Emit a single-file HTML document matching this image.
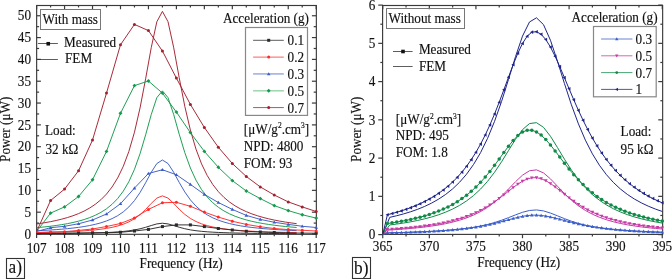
<!DOCTYPE html><html><head><meta charset="utf-8"><style>html,body{margin:0;padding:0;background:#fff;overflow:hidden}svg{display:block;will-change:transform}text{font-family:"Liberation Serif", serif}</style></head><body>
<svg width="672" height="279" viewBox="0 0 672 279">
<rect width="672" height="279" fill="#fff"/>
<rect x="36.65" y="5.5" width="279.7" height="228.8" fill="none" stroke="#3a3a3a" stroke-width="1.15"/>
<line x1="36.6" y1="234" x2="36.6" y2="238" stroke="#3a3a3a" stroke-width="1.2"/>
<line x1="36.6" y1="5.25" x2="36.6" y2="9.25" stroke="#3a3a3a" stroke-width="1.2"/>
<line x1="50.58" y1="234" x2="50.58" y2="236.2" stroke="#3a3a3a" stroke-width="1.2"/>
<line x1="50.58" y1="5.25" x2="50.58" y2="7.45" stroke="#3a3a3a" stroke-width="1.2"/>
<line x1="64.56" y1="234" x2="64.56" y2="238" stroke="#3a3a3a" stroke-width="1.2"/>
<line x1="64.56" y1="5.25" x2="64.56" y2="9.25" stroke="#3a3a3a" stroke-width="1.2"/>
<line x1="78.54" y1="234" x2="78.54" y2="236.2" stroke="#3a3a3a" stroke-width="1.2"/>
<line x1="78.54" y1="5.25" x2="78.54" y2="7.45" stroke="#3a3a3a" stroke-width="1.2"/>
<line x1="92.52" y1="234" x2="92.52" y2="238" stroke="#3a3a3a" stroke-width="1.2"/>
<line x1="92.52" y1="5.25" x2="92.52" y2="9.25" stroke="#3a3a3a" stroke-width="1.2"/>
<line x1="106.5" y1="234" x2="106.5" y2="236.2" stroke="#3a3a3a" stroke-width="1.2"/>
<line x1="106.5" y1="5.25" x2="106.5" y2="7.45" stroke="#3a3a3a" stroke-width="1.2"/>
<line x1="120.48" y1="234" x2="120.48" y2="238" stroke="#3a3a3a" stroke-width="1.2"/>
<line x1="120.48" y1="5.25" x2="120.48" y2="9.25" stroke="#3a3a3a" stroke-width="1.2"/>
<line x1="134.46" y1="234" x2="134.46" y2="236.2" stroke="#3a3a3a" stroke-width="1.2"/>
<line x1="134.46" y1="5.25" x2="134.46" y2="7.45" stroke="#3a3a3a" stroke-width="1.2"/>
<line x1="148.44" y1="234" x2="148.44" y2="238" stroke="#3a3a3a" stroke-width="1.2"/>
<line x1="148.44" y1="5.25" x2="148.44" y2="9.25" stroke="#3a3a3a" stroke-width="1.2"/>
<line x1="162.42" y1="234" x2="162.42" y2="236.2" stroke="#3a3a3a" stroke-width="1.2"/>
<line x1="162.42" y1="5.25" x2="162.42" y2="7.45" stroke="#3a3a3a" stroke-width="1.2"/>
<line x1="176.4" y1="234" x2="176.4" y2="238" stroke="#3a3a3a" stroke-width="1.2"/>
<line x1="176.4" y1="5.25" x2="176.4" y2="9.25" stroke="#3a3a3a" stroke-width="1.2"/>
<line x1="190.38" y1="234" x2="190.38" y2="236.2" stroke="#3a3a3a" stroke-width="1.2"/>
<line x1="190.38" y1="5.25" x2="190.38" y2="7.45" stroke="#3a3a3a" stroke-width="1.2"/>
<line x1="204.36" y1="234" x2="204.36" y2="238" stroke="#3a3a3a" stroke-width="1.2"/>
<line x1="204.36" y1="5.25" x2="204.36" y2="9.25" stroke="#3a3a3a" stroke-width="1.2"/>
<line x1="218.34" y1="234" x2="218.34" y2="236.2" stroke="#3a3a3a" stroke-width="1.2"/>
<line x1="218.34" y1="5.25" x2="218.34" y2="7.45" stroke="#3a3a3a" stroke-width="1.2"/>
<line x1="232.32" y1="234" x2="232.32" y2="238" stroke="#3a3a3a" stroke-width="1.2"/>
<line x1="232.32" y1="5.25" x2="232.32" y2="9.25" stroke="#3a3a3a" stroke-width="1.2"/>
<line x1="246.3" y1="234" x2="246.3" y2="236.2" stroke="#3a3a3a" stroke-width="1.2"/>
<line x1="246.3" y1="5.25" x2="246.3" y2="7.45" stroke="#3a3a3a" stroke-width="1.2"/>
<line x1="260.28" y1="234" x2="260.28" y2="238" stroke="#3a3a3a" stroke-width="1.2"/>
<line x1="260.28" y1="5.25" x2="260.28" y2="9.25" stroke="#3a3a3a" stroke-width="1.2"/>
<line x1="274.26" y1="234" x2="274.26" y2="236.2" stroke="#3a3a3a" stroke-width="1.2"/>
<line x1="274.26" y1="5.25" x2="274.26" y2="7.45" stroke="#3a3a3a" stroke-width="1.2"/>
<line x1="288.24" y1="234" x2="288.24" y2="238" stroke="#3a3a3a" stroke-width="1.2"/>
<line x1="288.24" y1="5.25" x2="288.24" y2="9.25" stroke="#3a3a3a" stroke-width="1.2"/>
<line x1="302.22" y1="234" x2="302.22" y2="236.2" stroke="#3a3a3a" stroke-width="1.2"/>
<line x1="302.22" y1="5.25" x2="302.22" y2="7.45" stroke="#3a3a3a" stroke-width="1.2"/>
<line x1="316.2" y1="234" x2="316.2" y2="238" stroke="#3a3a3a" stroke-width="1.2"/>
<line x1="316.2" y1="5.25" x2="316.2" y2="9.25" stroke="#3a3a3a" stroke-width="1.2"/>
<line x1="36.6" y1="234" x2="40.9" y2="234" stroke="#3a3a3a" stroke-width="1.2"/>
<line x1="316.2" y1="234" x2="311.9" y2="234" stroke="#3a3a3a" stroke-width="1.2"/>
<line x1="36.6" y1="223.09" x2="39.1" y2="223.09" stroke="#3a3a3a" stroke-width="1.2"/>
<line x1="316.2" y1="223.09" x2="313.7" y2="223.09" stroke="#3a3a3a" stroke-width="1.2"/>
<line x1="36.6" y1="212.18" x2="40.9" y2="212.18" stroke="#3a3a3a" stroke-width="1.2"/>
<line x1="316.2" y1="212.18" x2="311.9" y2="212.18" stroke="#3a3a3a" stroke-width="1.2"/>
<line x1="36.6" y1="201.26" x2="39.1" y2="201.26" stroke="#3a3a3a" stroke-width="1.2"/>
<line x1="316.2" y1="201.26" x2="313.7" y2="201.26" stroke="#3a3a3a" stroke-width="1.2"/>
<line x1="36.6" y1="190.35" x2="40.9" y2="190.35" stroke="#3a3a3a" stroke-width="1.2"/>
<line x1="316.2" y1="190.35" x2="311.9" y2="190.35" stroke="#3a3a3a" stroke-width="1.2"/>
<line x1="36.6" y1="179.44" x2="39.1" y2="179.44" stroke="#3a3a3a" stroke-width="1.2"/>
<line x1="316.2" y1="179.44" x2="313.7" y2="179.44" stroke="#3a3a3a" stroke-width="1.2"/>
<line x1="36.6" y1="168.52" x2="40.9" y2="168.52" stroke="#3a3a3a" stroke-width="1.2"/>
<line x1="316.2" y1="168.52" x2="311.9" y2="168.52" stroke="#3a3a3a" stroke-width="1.2"/>
<line x1="36.6" y1="157.61" x2="39.1" y2="157.61" stroke="#3a3a3a" stroke-width="1.2"/>
<line x1="316.2" y1="157.61" x2="313.7" y2="157.61" stroke="#3a3a3a" stroke-width="1.2"/>
<line x1="36.6" y1="146.7" x2="40.9" y2="146.7" stroke="#3a3a3a" stroke-width="1.2"/>
<line x1="316.2" y1="146.7" x2="311.9" y2="146.7" stroke="#3a3a3a" stroke-width="1.2"/>
<line x1="36.6" y1="135.79" x2="39.1" y2="135.79" stroke="#3a3a3a" stroke-width="1.2"/>
<line x1="316.2" y1="135.79" x2="313.7" y2="135.79" stroke="#3a3a3a" stroke-width="1.2"/>
<line x1="36.6" y1="124.88" x2="40.9" y2="124.88" stroke="#3a3a3a" stroke-width="1.2"/>
<line x1="316.2" y1="124.88" x2="311.9" y2="124.88" stroke="#3a3a3a" stroke-width="1.2"/>
<line x1="36.6" y1="113.96" x2="39.1" y2="113.96" stroke="#3a3a3a" stroke-width="1.2"/>
<line x1="316.2" y1="113.96" x2="313.7" y2="113.96" stroke="#3a3a3a" stroke-width="1.2"/>
<line x1="36.6" y1="103.05" x2="40.9" y2="103.05" stroke="#3a3a3a" stroke-width="1.2"/>
<line x1="316.2" y1="103.05" x2="311.9" y2="103.05" stroke="#3a3a3a" stroke-width="1.2"/>
<line x1="36.6" y1="92.14" x2="39.1" y2="92.14" stroke="#3a3a3a" stroke-width="1.2"/>
<line x1="316.2" y1="92.14" x2="313.7" y2="92.14" stroke="#3a3a3a" stroke-width="1.2"/>
<line x1="36.6" y1="81.22" x2="40.9" y2="81.22" stroke="#3a3a3a" stroke-width="1.2"/>
<line x1="316.2" y1="81.22" x2="311.9" y2="81.22" stroke="#3a3a3a" stroke-width="1.2"/>
<line x1="36.6" y1="70.31" x2="39.1" y2="70.31" stroke="#3a3a3a" stroke-width="1.2"/>
<line x1="316.2" y1="70.31" x2="313.7" y2="70.31" stroke="#3a3a3a" stroke-width="1.2"/>
<line x1="36.6" y1="59.4" x2="40.9" y2="59.4" stroke="#3a3a3a" stroke-width="1.2"/>
<line x1="316.2" y1="59.4" x2="311.9" y2="59.4" stroke="#3a3a3a" stroke-width="1.2"/>
<line x1="36.6" y1="48.49" x2="39.1" y2="48.49" stroke="#3a3a3a" stroke-width="1.2"/>
<line x1="316.2" y1="48.49" x2="313.7" y2="48.49" stroke="#3a3a3a" stroke-width="1.2"/>
<line x1="36.6" y1="37.57" x2="40.9" y2="37.57" stroke="#3a3a3a" stroke-width="1.2"/>
<line x1="316.2" y1="37.57" x2="311.9" y2="37.57" stroke="#3a3a3a" stroke-width="1.2"/>
<line x1="36.6" y1="26.66" x2="39.1" y2="26.66" stroke="#3a3a3a" stroke-width="1.2"/>
<line x1="316.2" y1="26.66" x2="313.7" y2="26.66" stroke="#3a3a3a" stroke-width="1.2"/>
<line x1="36.6" y1="15.75" x2="40.9" y2="15.75" stroke="#3a3a3a" stroke-width="1.2"/>
<line x1="316.2" y1="15.75" x2="311.9" y2="15.75" stroke="#3a3a3a" stroke-width="1.2"/>
<clipPath id="clipA"><rect x="36" y="5" width="281" height="229.5"/></clipPath>
<g clip-path="url(#clipA)">
<polyline points="36.6,233.65 39.4,233.63 44.99,233.6 50.58,233.57 56.17,233.53 61.76,233.48 67.36,233.42 72.95,233.36 78.54,233.28 84.13,233.18 89.72,233.07 95.32,232.93 100.91,232.76 106.5,232.55 112.09,232.27 117.68,231.91 123.28,231.44 128.87,230.81 134.46,229.95 140.05,228.8 145.64,227.3 151.24,225.53 156.83,223.91 162.42,223.22 168.01,223.91 173.6,225.5 179.2,227.24 184.79,228.72 190.38,229.86 195.97,230.71 201.56,231.34 207.16,231.81 212.75,232.17 218.34,232.45 223.93,232.67 229.52,232.85 235.12,232.99 240.71,233.11 246.3,233.21 251.89,233.29 257.48,233.36 263.08,233.41 268.67,233.47 274.26,233.51 279.85,233.55 285.44,233.58 291.04,233.61 296.63,233.64" fill="none" stroke="#2a2a2a" stroke-width="0.95" stroke-linejoin="round" />
<polyline points="36.6,232.63 39.4,232.57 44.99,232.45 50.58,232.31 56.17,232.15 61.76,231.96 67.36,231.75 72.95,231.49 78.54,231.19 84.13,230.83 89.72,230.39 95.32,229.86 100.91,229.21 106.5,228.39 112.09,227.34 117.68,225.99 123.28,224.23 128.87,221.89 134.46,218.77 140.05,214.65 145.64,209.4 151.24,203.42 156.83,198.12 162.42,195.89 168.01,198.1 173.6,203.32 179.2,209.2 184.79,214.36 190.38,218.43 195.97,221.52 201.56,223.85 207.16,225.62 212.75,226.98 218.34,228.03 223.93,228.87 229.52,229.54 235.12,230.09 240.71,230.54 246.3,230.91 251.89,231.23 257.48,231.49 263.08,231.72 268.67,231.92 274.26,232.09 279.85,232.24 285.44,232.37 291.04,232.49 296.63,232.59" fill="none" stroke="#ff2a2a" stroke-width="0.95" stroke-linejoin="round" />
<polyline points="36.6,230.74 39.4,230.6 44.99,230.31 50.58,229.98 56.17,229.6 61.76,229.16 67.36,228.66 72.95,228.06 78.54,227.36 84.13,226.53 89.72,225.53 95.32,224.31 100.91,222.82 106.5,220.96 112.09,218.64 117.68,215.68 123.28,211.87 128.87,206.95 134.46,200.58 140.05,192.5 145.64,182.76 151.24,172.28 156.83,163.54 162.42,160.01 168.01,163.52 173.6,172.12 179.2,182.39 184.79,191.95 190.38,199.89 195.97,206.17 201.56,211.06 207.16,214.86 212.75,217.83 218.34,220.18 223.93,222.06 229.52,223.58 235.12,224.83 240.71,225.86 246.3,226.72 251.89,227.45 257.48,228.07 263.08,228.6 268.67,229.06 274.26,229.46 279.85,229.81 285.44,230.12 291.04,230.4 296.63,230.64" fill="none" stroke="#3b5cc4" stroke-width="0.95" stroke-linejoin="round" />
<polyline points="36.6,227.68 39.4,227.43 44.99,226.87 50.58,226.22 56.17,225.49 61.76,224.64 67.36,223.66 72.95,222.51 78.54,221.15 84.13,219.54 89.72,217.6 95.32,215.25 100.91,212.36 106.5,208.78 112.09,204.27 117.68,198.54 123.28,191.18 128.87,181.65 134.46,169.33 140.05,153.7 145.64,134.84 151.24,114.57 156.83,97.66 162.42,90.83 168.01,97.61 173.6,114.26 179.2,134.14 184.79,152.62 190.38,167.99 195.97,180.15 201.56,189.61 207.16,196.96 212.75,202.71 218.34,207.26 223.93,210.89 229.52,213.84 235.12,216.25 240.71,218.24 246.3,219.91 251.89,221.32 257.48,222.52 263.08,223.55 268.67,224.44 274.26,225.22 279.85,225.9 285.44,226.5 291.04,227.03 296.63,227.5" fill="none" stroke="#139a4c" stroke-width="0.95" stroke-linejoin="round" />
<polyline points="36.6,223.97 39.4,223.56 44.99,222.67 50.58,221.65 56.17,220.49 61.76,219.15 67.36,217.59 72.95,215.76 78.54,213.62 84.13,211.06 89.72,207.99 95.32,204.27 100.91,199.71 106.5,194.05 112.09,186.95 117.68,177.93 123.28,166.37 128.87,151.44 134.46,132.21 140.05,107.92 145.64,78.76 151.24,47.62 156.83,21.78 162.42,11.38 168.01,21.7 173.6,47.15 179.2,77.68 184.79,106.25 190.38,130.13 195.97,149.1 201.56,163.91 207.16,175.45 212.75,184.49 218.34,191.65 223.93,197.39 229.52,202.04 235.12,205.85 240.71,209.01 246.3,211.65 251.89,213.88 257.48,215.78 263.08,217.41 268.67,218.83 274.26,220.06 279.85,221.13 285.44,222.08 291.04,222.92 296.63,223.67" fill="none" stroke="#a3202e" stroke-width="0.95" stroke-linejoin="round" />
</g>
<polyline points="36.6,233.3 50.58,233.2 64.56,233.1 78.54,233 92.52,232.8 106.5,232.75 120.48,232.25 134.46,231 148.44,229.4 162.42,226.6 176.4,224.9 190.38,224.9 204.36,226.6 218.34,228.5 232.32,230 246.3,231.25 260.28,232 274.26,232.5 288.24,232.9 302.22,233.1 316.2,233.2" fill="none" stroke="#2a2a2a" stroke-width="0.95" stroke-linejoin="round" />
<rect x="49.08" y="231.7" width="3" height="3" fill="#2a2a2a"/>
<rect x="63.06" y="231.6" width="3" height="3" fill="#2a2a2a"/>
<rect x="77.04" y="231.5" width="3" height="3" fill="#2a2a2a"/>
<rect x="91.02" y="231.3" width="3" height="3" fill="#2a2a2a"/>
<rect x="105" y="231.25" width="3" height="3" fill="#2a2a2a"/>
<rect x="118.98" y="230.75" width="3" height="3" fill="#2a2a2a"/>
<rect x="132.96" y="229.5" width="3" height="3" fill="#2a2a2a"/>
<rect x="146.94" y="227.9" width="3" height="3" fill="#2a2a2a"/>
<rect x="160.92" y="225.1" width="3" height="3" fill="#2a2a2a"/>
<rect x="174.9" y="223.4" width="3" height="3" fill="#2a2a2a"/>
<rect x="188.88" y="223.4" width="3" height="3" fill="#2a2a2a"/>
<rect x="202.86" y="225.1" width="3" height="3" fill="#2a2a2a"/>
<rect x="216.84" y="227" width="3" height="3" fill="#2a2a2a"/>
<rect x="230.82" y="228.5" width="3" height="3" fill="#2a2a2a"/>
<rect x="244.8" y="229.75" width="3" height="3" fill="#2a2a2a"/>
<rect x="258.78" y="230.5" width="3" height="3" fill="#2a2a2a"/>
<rect x="272.76" y="231" width="3" height="3" fill="#2a2a2a"/>
<rect x="286.74" y="231.4" width="3" height="3" fill="#2a2a2a"/>
<rect x="300.72" y="231.6" width="3" height="3" fill="#2a2a2a"/>
<rect x="314.7" y="231.7" width="3" height="3" fill="#2a2a2a"/>
<polyline points="36.6,232.5 50.58,232 64.56,231.7 78.54,230.4 92.52,229 106.5,226.5 120.48,223.5 134.46,217.9 148.44,209.4 162.42,202.75 176.4,202.3 190.38,206.3 204.36,212.1 218.34,217.1 232.32,221.25 246.3,224.4 260.28,226.75 274.26,228.5 288.24,229.6 302.22,230.25 316.2,231" fill="none" stroke="#ff2a2a" stroke-width="0.95" stroke-linejoin="round" />
<circle cx="50.58" cy="232" r="1.5" fill="#ff2a2a"/>
<circle cx="64.56" cy="231.7" r="1.5" fill="#ff2a2a"/>
<circle cx="78.54" cy="230.4" r="1.5" fill="#ff2a2a"/>
<circle cx="92.52" cy="229" r="1.5" fill="#ff2a2a"/>
<circle cx="106.5" cy="226.5" r="1.5" fill="#ff2a2a"/>
<circle cx="120.48" cy="223.5" r="1.5" fill="#ff2a2a"/>
<circle cx="134.46" cy="217.9" r="1.5" fill="#ff2a2a"/>
<circle cx="148.44" cy="209.4" r="1.5" fill="#ff2a2a"/>
<circle cx="162.42" cy="202.75" r="1.5" fill="#ff2a2a"/>
<circle cx="176.4" cy="202.3" r="1.5" fill="#ff2a2a"/>
<circle cx="190.38" cy="206.3" r="1.5" fill="#ff2a2a"/>
<circle cx="204.36" cy="212.1" r="1.5" fill="#ff2a2a"/>
<circle cx="218.34" cy="217.1" r="1.5" fill="#ff2a2a"/>
<circle cx="232.32" cy="221.25" r="1.5" fill="#ff2a2a"/>
<circle cx="246.3" cy="224.4" r="1.5" fill="#ff2a2a"/>
<circle cx="260.28" cy="226.75" r="1.5" fill="#ff2a2a"/>
<circle cx="274.26" cy="228.5" r="1.5" fill="#ff2a2a"/>
<circle cx="288.24" cy="229.6" r="1.5" fill="#ff2a2a"/>
<circle cx="302.22" cy="230.25" r="1.5" fill="#ff2a2a"/>
<circle cx="316.2" cy="231" r="1.5" fill="#ff2a2a"/>
<polyline points="36.6,231.5 50.58,227.7 64.56,226.3 78.54,223.75 92.52,220 106.5,214 120.48,203.75 134.46,188.1 148.44,173.5 162.42,169.75 176.4,174.75 190.38,184.4 204.36,194.4 218.34,202.5 232.32,209.4 246.3,215.4 260.28,219.4 274.26,222.25 288.24,224.4 302.22,226.25 316.2,227.5" fill="none" stroke="#3b5cc4" stroke-width="0.95" stroke-linejoin="round" />
<path d="M50.58 225.9L52.38 229.05L48.78 229.05Z" fill="#3b5cc4"/>
<path d="M64.56 224.5L66.36 227.65L62.76 227.65Z" fill="#3b5cc4"/>
<path d="M78.54 221.95L80.34 225.1L76.74 225.1Z" fill="#3b5cc4"/>
<path d="M92.52 218.2L94.32 221.35L90.72 221.35Z" fill="#3b5cc4"/>
<path d="M106.5 212.2L108.3 215.35L104.7 215.35Z" fill="#3b5cc4"/>
<path d="M120.48 201.95L122.28 205.1L118.68 205.1Z" fill="#3b5cc4"/>
<path d="M134.46 186.3L136.26 189.45L132.66 189.45Z" fill="#3b5cc4"/>
<path d="M148.44 171.7L150.24 174.85L146.64 174.85Z" fill="#3b5cc4"/>
<path d="M162.42 167.95L164.22 171.1L160.62 171.1Z" fill="#3b5cc4"/>
<path d="M176.4 172.95L178.2 176.1L174.6 176.1Z" fill="#3b5cc4"/>
<path d="M190.38 182.6L192.18 185.75L188.58 185.75Z" fill="#3b5cc4"/>
<path d="M204.36 192.6L206.16 195.75L202.56 195.75Z" fill="#3b5cc4"/>
<path d="M218.34 200.7L220.14 203.85L216.54 203.85Z" fill="#3b5cc4"/>
<path d="M232.32 207.6L234.12 210.75L230.52 210.75Z" fill="#3b5cc4"/>
<path d="M246.3 213.6L248.1 216.75L244.5 216.75Z" fill="#3b5cc4"/>
<path d="M260.28 217.6L262.08 220.75L258.48 220.75Z" fill="#3b5cc4"/>
<path d="M274.26 220.45L276.06 223.6L272.46 223.6Z" fill="#3b5cc4"/>
<path d="M288.24 222.6L290.04 225.75L286.44 225.75Z" fill="#3b5cc4"/>
<path d="M302.22 224.45L304.02 227.6L300.42 227.6Z" fill="#3b5cc4"/>
<path d="M316.2 225.7L318 228.85L314.4 228.85Z" fill="#3b5cc4"/>
<polyline points="36.6,231.5 50.58,213.1 64.56,206.9 78.54,196.5 92.52,179.75 106.5,151.4 120.48,113.3 134.46,85.6 148.44,81 162.42,93.1 176.4,112.1 190.38,132.6 204.36,151.4 218.34,167.3 232.32,180.6 246.3,191 260.28,198.6 274.26,205.6 288.24,210.6 302.22,214.75 316.2,218.1" fill="none" stroke="#139a4c" stroke-width="0.95" stroke-linejoin="round" />
<path d="M50.58 211.15L52.53 213.1L50.58 215.05L48.63 213.1Z" fill="#139a4c"/>
<path d="M64.56 204.95L66.51 206.9L64.56 208.85L62.61 206.9Z" fill="#139a4c"/>
<path d="M78.54 194.55L80.49 196.5L78.54 198.45L76.59 196.5Z" fill="#139a4c"/>
<path d="M92.52 177.8L94.47 179.75L92.52 181.7L90.57 179.75Z" fill="#139a4c"/>
<path d="M106.5 149.45L108.45 151.4L106.5 153.35L104.55 151.4Z" fill="#139a4c"/>
<path d="M120.48 111.35L122.43 113.3L120.48 115.25L118.53 113.3Z" fill="#139a4c"/>
<path d="M134.46 83.65L136.41 85.6L134.46 87.55L132.51 85.6Z" fill="#139a4c"/>
<path d="M148.44 79.05L150.39 81L148.44 82.95L146.49 81Z" fill="#139a4c"/>
<path d="M162.42 91.15L164.37 93.1L162.42 95.05L160.47 93.1Z" fill="#139a4c"/>
<path d="M176.4 110.15L178.35 112.1L176.4 114.05L174.45 112.1Z" fill="#139a4c"/>
<path d="M190.38 130.65L192.33 132.6L190.38 134.55L188.43 132.6Z" fill="#139a4c"/>
<path d="M204.36 149.45L206.31 151.4L204.36 153.35L202.41 151.4Z" fill="#139a4c"/>
<path d="M218.34 165.35L220.29 167.3L218.34 169.25L216.39 167.3Z" fill="#139a4c"/>
<path d="M232.32 178.65L234.27 180.6L232.32 182.55L230.37 180.6Z" fill="#139a4c"/>
<path d="M246.3 189.05L248.25 191L246.3 192.95L244.35 191Z" fill="#139a4c"/>
<path d="M260.28 196.65L262.23 198.6L260.28 200.55L258.33 198.6Z" fill="#139a4c"/>
<path d="M274.26 203.65L276.21 205.6L274.26 207.55L272.31 205.6Z" fill="#139a4c"/>
<path d="M288.24 208.65L290.19 210.6L288.24 212.55L286.29 210.6Z" fill="#139a4c"/>
<path d="M302.22 212.8L304.17 214.75L302.22 216.7L300.27 214.75Z" fill="#139a4c"/>
<path d="M316.2 216.15L318.15 218.1L316.2 220.05L314.25 218.1Z" fill="#139a4c"/>
<polyline points="36.6,231.5 50.58,200.5 64.56,189.1 78.54,170.8 92.52,140 106.5,93.1 120.48,44.8 134.46,24.4 148.44,30.6 162.42,51 176.4,78.1 190.38,104.4 204.36,127.5 218.34,147.25 232.32,163.5 246.3,176.5 260.28,186.9 274.26,195 288.24,201.9 302.22,206.9 316.2,211.5" fill="none" stroke="#a3202e" stroke-width="0.95" stroke-linejoin="round" />
<circle cx="50.58" cy="200.5" r="1.5" fill="#a3202e"/>
<circle cx="64.56" cy="189.1" r="1.5" fill="#a3202e"/>
<circle cx="78.54" cy="170.8" r="1.5" fill="#a3202e"/>
<circle cx="92.52" cy="140" r="1.5" fill="#a3202e"/>
<circle cx="106.5" cy="93.1" r="1.5" fill="#a3202e"/>
<circle cx="120.48" cy="44.8" r="1.5" fill="#a3202e"/>
<circle cx="134.46" cy="24.4" r="1.5" fill="#a3202e"/>
<circle cx="148.44" cy="30.6" r="1.5" fill="#a3202e"/>
<circle cx="162.42" cy="51" r="1.5" fill="#a3202e"/>
<circle cx="176.4" cy="78.1" r="1.5" fill="#a3202e"/>
<circle cx="190.38" cy="104.4" r="1.5" fill="#a3202e"/>
<circle cx="204.36" cy="127.5" r="1.5" fill="#a3202e"/>
<circle cx="218.34" cy="147.25" r="1.5" fill="#a3202e"/>
<circle cx="232.32" cy="163.5" r="1.5" fill="#a3202e"/>
<circle cx="246.3" cy="176.5" r="1.5" fill="#a3202e"/>
<circle cx="260.28" cy="186.9" r="1.5" fill="#a3202e"/>
<circle cx="274.26" cy="195" r="1.5" fill="#a3202e"/>
<circle cx="288.24" cy="201.9" r="1.5" fill="#a3202e"/>
<circle cx="302.22" cy="206.9" r="1.5" fill="#a3202e"/>
<circle cx="316.2" cy="211.5" r="1.5" fill="#a3202e"/>
<text transform="translate(31,238.65) scale(0.94,1)" font-size="14.04" text-anchor="end" fill="#111" stroke="#111" stroke-width="0.15">0</text>
<text transform="translate(31,216.83) scale(0.94,1)" font-size="14.04" text-anchor="end" fill="#111" stroke="#111" stroke-width="0.15">5</text>
<text transform="translate(31,195) scale(0.94,1)" font-size="14.04" text-anchor="end" fill="#111" stroke="#111" stroke-width="0.15">10</text>
<text transform="translate(31,173.17) scale(0.94,1)" font-size="14.04" text-anchor="end" fill="#111" stroke="#111" stroke-width="0.15">15</text>
<text transform="translate(31,151.35) scale(0.94,1)" font-size="14.04" text-anchor="end" fill="#111" stroke="#111" stroke-width="0.15">20</text>
<text transform="translate(31,129.53) scale(0.94,1)" font-size="14.04" text-anchor="end" fill="#111" stroke="#111" stroke-width="0.15">25</text>
<text transform="translate(31,107.7) scale(0.94,1)" font-size="14.04" text-anchor="end" fill="#111" stroke="#111" stroke-width="0.15">30</text>
<text transform="translate(31,85.88) scale(0.94,1)" font-size="14.04" text-anchor="end" fill="#111" stroke="#111" stroke-width="0.15">35</text>
<text transform="translate(31,64.05) scale(0.94,1)" font-size="14.04" text-anchor="end" fill="#111" stroke="#111" stroke-width="0.15">40</text>
<text transform="translate(31,42.22) scale(0.94,1)" font-size="14.04" text-anchor="end" fill="#111" stroke="#111" stroke-width="0.15">45</text>
<text transform="translate(31,20.4) scale(0.94,1)" font-size="14.04" text-anchor="end" fill="#111" stroke="#111" stroke-width="0.15">50</text>
<text transform="translate(36.6,252.65) scale(0.94,1)" font-size="14.04" text-anchor="middle" fill="#111" stroke="#111" stroke-width="0.15">107</text>
<text transform="translate(64.56,252.65) scale(0.94,1)" font-size="14.04" text-anchor="middle" fill="#111" stroke="#111" stroke-width="0.15">108</text>
<text transform="translate(92.52,252.65) scale(0.94,1)" font-size="14.04" text-anchor="middle" fill="#111" stroke="#111" stroke-width="0.15">109</text>
<text transform="translate(120.48,252.65) scale(0.94,1)" font-size="14.04" text-anchor="middle" fill="#111" stroke="#111" stroke-width="0.15">110</text>
<text transform="translate(148.44,252.65) scale(0.94,1)" font-size="14.04" text-anchor="middle" fill="#111" stroke="#111" stroke-width="0.15">111</text>
<text transform="translate(176.4,252.65) scale(0.94,1)" font-size="14.04" text-anchor="middle" fill="#111" stroke="#111" stroke-width="0.15">112</text>
<text transform="translate(204.36,252.65) scale(0.94,1)" font-size="14.04" text-anchor="middle" fill="#111" stroke="#111" stroke-width="0.15">113</text>
<text transform="translate(232.32,252.65) scale(0.94,1)" font-size="14.04" text-anchor="middle" fill="#111" stroke="#111" stroke-width="0.15">114</text>
<text transform="translate(260.28,252.65) scale(0.94,1)" font-size="14.04" text-anchor="middle" fill="#111" stroke="#111" stroke-width="0.15">115</text>
<text transform="translate(288.24,252.65) scale(0.94,1)" font-size="14.04" text-anchor="middle" fill="#111" stroke="#111" stroke-width="0.15">116</text>
<text transform="translate(316.2,252.65) scale(0.94,1)" font-size="14.04" text-anchor="middle" fill="#111" stroke="#111" stroke-width="0.15">117</text>
<text transform="translate(181.1,267.75) scale(0.94,1)" font-size="14.04" text-anchor="middle" fill="#111" stroke="#111" stroke-width="0.15">Frequency (Hz)</text>
<text transform="translate(9.6,129.3) rotate(-90) scale(0.94,1)" font-size="14.04" text-anchor="middle" fill="#111" stroke="#111" stroke-width="0.15">Power (&#956;W)</text>
<rect x="6.5" y="258.5" width="18" height="20" fill="none" stroke="#333" stroke-width="1.1"/>
<text transform="translate(15.2,272.85) scale(0.94,1)" font-size="18.36" text-anchor="middle" fill="#111" stroke="#111" stroke-width="0.15">a)</text>
<rect x="40.5" y="9.5" width="60" height="20" fill="none" stroke="#777" stroke-width="1"/>
<text transform="translate(42.5,23.95) scale(0.94,1)" font-size="14.04" text-anchor="start" fill="#111" stroke="#111" stroke-width="0.15">With mass</text>
<line x1="37.9" y1="43.5" x2="57.9" y2="43.5" stroke="#333" stroke-width="0.8"/>
<rect x="46.45" y="41.95" width="3.6" height="3.6" fill="#111"/>
<text transform="translate(64.1,46.55) scale(0.94,1)" font-size="14.04" text-anchor="start" fill="#111" stroke="#111" stroke-width="0.15">Measured</text>
<line x1="37.9" y1="59.5" x2="57.9" y2="59.5" stroke="#333" stroke-width="0.8"/>
<text transform="translate(65,62.75) scale(0.94,1)" font-size="14.04" text-anchor="start" fill="#111" stroke="#111" stroke-width="0.15">FEM</text>
<text transform="translate(309,22.75) scale(0.94,1)" font-size="14.04" text-anchor="end" fill="#111" stroke="#111" stroke-width="0.15">Acceleration (g)</text>
<rect x="245.5" y="27.5" width="62" height="87.9" fill="none" stroke="#888" stroke-width="1.2"/>
<line x1="253.1" y1="40.3" x2="283.8" y2="40.3" stroke="#2a2a2a" stroke-width="0.9" opacity="0.85"/>
<rect x="267.2" y="38.8" width="3" height="3" fill="#2a2a2a"/>
<text transform="translate(287.6,45.25) scale(0.94,1)" font-size="14.04" text-anchor="start" fill="#111" stroke="#111" stroke-width="0.15">0.1</text>
<line x1="253.1" y1="57.12" x2="283.8" y2="57.12" stroke="#ff2a2a" stroke-width="0.9" opacity="0.85"/>
<circle cx="268.7" cy="57.12" r="1.5" fill="#ff2a2a"/>
<text transform="translate(287.6,62.07) scale(0.94,1)" font-size="14.04" text-anchor="start" fill="#111" stroke="#111" stroke-width="0.15">0.2</text>
<line x1="253.1" y1="73.94" x2="283.8" y2="73.94" stroke="#3b5cc4" stroke-width="0.9" opacity="0.85"/>
<path d="M268.7 72.14L270.5 75.29L266.9 75.29Z" fill="#3b5cc4"/>
<text transform="translate(287.6,78.89) scale(0.94,1)" font-size="14.04" text-anchor="start" fill="#111" stroke="#111" stroke-width="0.15">0.3</text>
<line x1="253.1" y1="90.76" x2="283.8" y2="90.76" stroke="#a3d6b3" stroke-width="1.6"/>
<path d="M268.7 88.81L270.65 90.76L268.7 92.71L266.75 90.76Z" fill="#139a4c"/>
<text transform="translate(287.6,95.71) scale(0.94,1)" font-size="14.04" text-anchor="start" fill="#111" stroke="#111" stroke-width="0.15">0.5</text>
<line x1="253.1" y1="107.58" x2="283.8" y2="107.58" stroke="#a3202e" stroke-width="0.9" opacity="0.85"/>
<circle cx="268.7" cy="107.58" r="1.5" fill="#a3202e"/>
<text transform="translate(287.6,112.53) scale(0.94,1)" font-size="14.04" text-anchor="start" fill="#111" stroke="#111" stroke-width="0.15">0.7</text>
<text transform="translate(45,135.45) scale(0.94,1)" font-size="14.04" text-anchor="start" fill="#111" stroke="#111" stroke-width="0.15">Load:</text>
<text transform="translate(45.4,153.75) scale(0.94,1)" font-size="14.04" text-anchor="start" fill="#111" stroke="#111" stroke-width="0.15">32 k&#937;</text>
<text transform="translate(243.75,133.55) scale(0.94,1)" font-size="14.04" text-anchor="start" fill="#111" stroke="#111" stroke-width="0.15">[&#956;W/g<tspan font-size="8" dy="-5.5">2</tspan><tspan dy="5.5">.cm</tspan><tspan font-size="8" dy="-5.5">3</tspan><tspan dy="5.5">]</tspan></text>
<text transform="translate(243.75,150.65) scale(0.94,1)" font-size="14.04" text-anchor="start" fill="#111" stroke="#111" stroke-width="0.15">NPD: 4800</text>
<text transform="translate(243.75,167.5) scale(0.94,1)" font-size="14.04" text-anchor="start" fill="#111" stroke="#111" stroke-width="0.15">FOM: 93</text>
<rect x="382.6" y="5.5" width="280.05" height="228.9" fill="none" stroke="#3a3a3a" stroke-width="1.15"/>
<line x1="382.75" y1="234.25" x2="382.75" y2="238.25" stroke="#3a3a3a" stroke-width="1.2"/>
<line x1="382.75" y1="5.25" x2="382.75" y2="9.25" stroke="#3a3a3a" stroke-width="1.2"/>
<line x1="406.04" y1="234.25" x2="406.04" y2="236.45" stroke="#3a3a3a" stroke-width="1.2"/>
<line x1="406.04" y1="5.25" x2="406.04" y2="7.45" stroke="#3a3a3a" stroke-width="1.2"/>
<line x1="429.33" y1="234.25" x2="429.33" y2="238.25" stroke="#3a3a3a" stroke-width="1.2"/>
<line x1="429.33" y1="5.25" x2="429.33" y2="9.25" stroke="#3a3a3a" stroke-width="1.2"/>
<line x1="452.63" y1="234.25" x2="452.63" y2="236.45" stroke="#3a3a3a" stroke-width="1.2"/>
<line x1="452.63" y1="5.25" x2="452.63" y2="7.45" stroke="#3a3a3a" stroke-width="1.2"/>
<line x1="475.92" y1="234.25" x2="475.92" y2="238.25" stroke="#3a3a3a" stroke-width="1.2"/>
<line x1="475.92" y1="5.25" x2="475.92" y2="9.25" stroke="#3a3a3a" stroke-width="1.2"/>
<line x1="499.21" y1="234.25" x2="499.21" y2="236.45" stroke="#3a3a3a" stroke-width="1.2"/>
<line x1="499.21" y1="5.25" x2="499.21" y2="7.45" stroke="#3a3a3a" stroke-width="1.2"/>
<line x1="522.5" y1="234.25" x2="522.5" y2="238.25" stroke="#3a3a3a" stroke-width="1.2"/>
<line x1="522.5" y1="5.25" x2="522.5" y2="9.25" stroke="#3a3a3a" stroke-width="1.2"/>
<line x1="545.8" y1="234.25" x2="545.8" y2="236.45" stroke="#3a3a3a" stroke-width="1.2"/>
<line x1="545.8" y1="5.25" x2="545.8" y2="7.45" stroke="#3a3a3a" stroke-width="1.2"/>
<line x1="569.09" y1="234.25" x2="569.09" y2="238.25" stroke="#3a3a3a" stroke-width="1.2"/>
<line x1="569.09" y1="5.25" x2="569.09" y2="9.25" stroke="#3a3a3a" stroke-width="1.2"/>
<line x1="592.38" y1="234.25" x2="592.38" y2="236.45" stroke="#3a3a3a" stroke-width="1.2"/>
<line x1="592.38" y1="5.25" x2="592.38" y2="7.45" stroke="#3a3a3a" stroke-width="1.2"/>
<line x1="615.67" y1="234.25" x2="615.67" y2="238.25" stroke="#3a3a3a" stroke-width="1.2"/>
<line x1="615.67" y1="5.25" x2="615.67" y2="9.25" stroke="#3a3a3a" stroke-width="1.2"/>
<line x1="638.97" y1="234.25" x2="638.97" y2="236.45" stroke="#3a3a3a" stroke-width="1.2"/>
<line x1="638.97" y1="5.25" x2="638.97" y2="7.45" stroke="#3a3a3a" stroke-width="1.2"/>
<line x1="662.26" y1="234.25" x2="662.26" y2="238.25" stroke="#3a3a3a" stroke-width="1.2"/>
<line x1="662.26" y1="5.25" x2="662.26" y2="9.25" stroke="#3a3a3a" stroke-width="1.2"/>
<line x1="382.75" y1="234.6" x2="378.25" y2="234.6" stroke="#3a3a3a" stroke-width="1.2"/>
<line x1="662.75" y1="234.6" x2="658.25" y2="234.6" stroke="#3a3a3a" stroke-width="1.2"/>
<line x1="382.75" y1="215.47" x2="380.35" y2="215.47" stroke="#3a3a3a" stroke-width="1.2"/>
<line x1="662.75" y1="215.47" x2="660.35" y2="215.47" stroke="#3a3a3a" stroke-width="1.2"/>
<line x1="382.75" y1="196.35" x2="378.25" y2="196.35" stroke="#3a3a3a" stroke-width="1.2"/>
<line x1="662.75" y1="196.35" x2="658.25" y2="196.35" stroke="#3a3a3a" stroke-width="1.2"/>
<line x1="382.75" y1="177.22" x2="380.35" y2="177.22" stroke="#3a3a3a" stroke-width="1.2"/>
<line x1="662.75" y1="177.22" x2="660.35" y2="177.22" stroke="#3a3a3a" stroke-width="1.2"/>
<line x1="382.75" y1="158.1" x2="378.25" y2="158.1" stroke="#3a3a3a" stroke-width="1.2"/>
<line x1="662.75" y1="158.1" x2="658.25" y2="158.1" stroke="#3a3a3a" stroke-width="1.2"/>
<line x1="382.75" y1="138.97" x2="380.35" y2="138.97" stroke="#3a3a3a" stroke-width="1.2"/>
<line x1="662.75" y1="138.97" x2="660.35" y2="138.97" stroke="#3a3a3a" stroke-width="1.2"/>
<line x1="382.75" y1="119.85" x2="378.25" y2="119.85" stroke="#3a3a3a" stroke-width="1.2"/>
<line x1="662.75" y1="119.85" x2="658.25" y2="119.85" stroke="#3a3a3a" stroke-width="1.2"/>
<line x1="382.75" y1="100.72" x2="380.35" y2="100.72" stroke="#3a3a3a" stroke-width="1.2"/>
<line x1="662.75" y1="100.72" x2="660.35" y2="100.72" stroke="#3a3a3a" stroke-width="1.2"/>
<line x1="382.75" y1="81.6" x2="378.25" y2="81.6" stroke="#3a3a3a" stroke-width="1.2"/>
<line x1="662.75" y1="81.6" x2="658.25" y2="81.6" stroke="#3a3a3a" stroke-width="1.2"/>
<line x1="382.75" y1="62.47" x2="380.35" y2="62.47" stroke="#3a3a3a" stroke-width="1.2"/>
<line x1="662.75" y1="62.47" x2="660.35" y2="62.47" stroke="#3a3a3a" stroke-width="1.2"/>
<line x1="382.75" y1="43.35" x2="378.25" y2="43.35" stroke="#3a3a3a" stroke-width="1.2"/>
<line x1="662.75" y1="43.35" x2="658.25" y2="43.35" stroke="#3a3a3a" stroke-width="1.2"/>
<line x1="382.75" y1="24.22" x2="380.35" y2="24.22" stroke="#3a3a3a" stroke-width="1.2"/>
<line x1="662.75" y1="24.22" x2="660.35" y2="24.22" stroke="#3a3a3a" stroke-width="1.2"/>
<line x1="382.75" y1="5.1" x2="378.25" y2="5.1" stroke="#3a3a3a" stroke-width="1.2"/>
<line x1="662.75" y1="5.1" x2="658.25" y2="5.1" stroke="#3a3a3a" stroke-width="1.2"/>
<clipPath id="clipB"><rect x="382" y="5" width="281" height="229.5"/></clipPath>
<g clip-path="url(#clipB)">
<polyline points="382.75,234.6 389.74,232.87 396.73,232.7 403.71,232.51 410.7,232.3 417.69,232.04 424.68,231.75 431.66,231.41 438.65,231 445.64,230.51 452.63,229.93 459.62,229.23 466.6,228.37 473.59,227.33 480.58,226.04 487.57,224.47 494.55,222.55 501.54,220.26 508.53,217.64 515.52,214.86 522.5,212.29 529.49,210.48 536.48,209.94 543.47,210.9 550.46,213.06 557.44,215.81 564.43,218.63 571.42,221.19 578.41,223.38 585.39,225.19 592.38,226.67 599.37,227.86 606.36,228.83 613.35,229.62 620.33,230.27 627.32,230.8 634.31,231.25 641.3,231.63 648.28,231.95 655.27,232.22 662.26,232.45" fill="none" stroke="#3b5ec8" stroke-width="1.0" stroke-linejoin="round" />
<polyline points="382.75,234.6 389.74,229.99 396.73,229.55 403.71,229.04 410.7,228.46 417.69,227.78 424.68,227 431.66,226.07 438.65,224.97 445.64,223.67 452.63,222.1 459.62,220.2 466.6,217.89 473.59,215.06 480.58,211.59 487.57,207.33 494.55,202.16 501.54,196.02 508.53,189.04 515.52,181.74 522.5,175.16 529.49,170.77 536.48,169.87 543.47,172.89 550.46,178.86 557.44,186.2 564.43,193.55 571.42,200.18 578.41,205.8 585.39,210.43 592.38,214.19 599.37,217.25 606.36,219.72 613.35,221.75 620.33,223.41 627.32,224.79 634.31,225.94 641.3,226.91 648.28,227.73 655.27,228.43 662.26,229.03" fill="none" stroke="#c53aa6" stroke-width="1.0" stroke-linejoin="round" />
<polyline points="382.75,234.6 389.74,224.96 396.73,224.05 403.71,223.01 410.7,221.82 417.69,220.43 424.68,218.83 431.66,216.96 438.65,214.75 445.64,212.15 452.63,209.05 459.62,205.34 466.6,200.88 473.59,195.52 480.58,189.06 487.57,181.34 494.55,172.25 501.54,161.84 508.53,150.52 515.52,139.24 522.5,129.61 529.49,123.57 536.48,122.66 543.47,127.3 550.46,136.26 557.44,147.51 564.43,159.18 571.42,170.08 578.41,179.66 585.39,187.8 592.38,194.6 599.37,200.23 606.36,204.88 613.35,208.74 620.33,211.95 627.32,214.64 634.31,216.91 641.3,218.82 648.28,220.46 655.27,221.87 662.26,223.08" fill="none" stroke="#0f8a48" stroke-width="1.0" stroke-linejoin="round" />
<polyline points="382.75,234.6 389.74,217.35 396.73,215.73 403.71,213.87 410.7,211.74 417.69,209.27 424.68,206.41 431.66,203.06 438.65,199.11 445.64,194.44 452.63,188.88 459.62,182.2 466.6,174.15 473.59,164.41 480.58,152.61 487.57,138.36 494.55,121.34 501.54,101.51 508.53,79.4 515.52,56.61 522.5,36.11 529.49,21.97 536.48,17.82 543.47,24.59 550.46,40.25 557.44,61.1 564.43,83.47 571.42,104.81 578.41,123.83 585.39,140.13 592.38,153.81 599.37,165.18 606.36,174.6 613.35,182.42 620.33,188.93 627.32,194.38 634.31,198.97 641.3,202.85 648.28,206.17 655.27,209.01 662.26,211.46" fill="none" stroke="#1e2488" stroke-width="1.0" stroke-linejoin="round" />
</g>
<polyline points="382.75,234.6 387.41,232.82 392.07,232.72 396.73,232.6 401.38,232.47 406.04,232.34 410.7,232.18 415.36,232.02 420.02,231.83 424.68,231.63 429.33,231.41 433.99,231.16 438.65,230.88 443.31,230.57 447.97,230.23 452.63,229.84 457.29,229.41 461.94,228.92 466.6,228.37 471.26,227.75 475.92,227.06 480.58,226.28 485.24,225.41 489.9,224.45 494.55,223.39 499.21,222.23 503.87,221.01 508.53,219.75 513.19,218.5 517.85,217.33 522.5,216.33 527.16,215.58 531.82,215.16 536.48,215.12 541.14,215.44 545.8,216.08 550.46,216.98 555.11,218.05 559.77,219.23 564.43,220.45 569.09,221.65 573.75,222.79 578.41,223.86 583.07,224.85 587.72,225.74 592.38,226.54 597.04,227.27 601.7,227.91 606.36,228.49 611.02,229.01 615.67,229.47 620.33,229.88 624.99,230.25 629.65,230.58 634.31,230.87 638.97,231.14 643.63,231.38 648.28,231.6 652.94,231.8 657.6,231.98 662.26,232.14" fill="none" stroke="#3b5ec8" stroke-width="1.0" stroke-linejoin="round" />
<path d="M387.41 231.02L389.21 234.17L385.61 234.17Z" fill="#3b5ec8"/>
<path d="M392.07 230.92L393.87 234.07L390.27 234.07Z" fill="#3b5ec8"/>
<path d="M396.73 230.8L398.53 233.95L394.93 233.95Z" fill="#3b5ec8"/>
<path d="M401.38 230.67L403.18 233.82L399.58 233.82Z" fill="#3b5ec8"/>
<path d="M406.04 230.54L407.84 233.69L404.24 233.69Z" fill="#3b5ec8"/>
<path d="M410.7 230.38L412.5 233.53L408.9 233.53Z" fill="#3b5ec8"/>
<path d="M415.36 230.22L417.16 233.37L413.56 233.37Z" fill="#3b5ec8"/>
<path d="M420.02 230.03L421.82 233.18L418.22 233.18Z" fill="#3b5ec8"/>
<path d="M424.68 229.83L426.48 232.98L422.88 232.98Z" fill="#3b5ec8"/>
<path d="M429.33 229.61L431.13 232.76L427.53 232.76Z" fill="#3b5ec8"/>
<path d="M433.99 229.36L435.79 232.51L432.19 232.51Z" fill="#3b5ec8"/>
<path d="M438.65 229.08L440.45 232.23L436.85 232.23Z" fill="#3b5ec8"/>
<path d="M443.31 228.77L445.11 231.92L441.51 231.92Z" fill="#3b5ec8"/>
<path d="M447.97 228.43L449.77 231.58L446.17 231.58Z" fill="#3b5ec8"/>
<path d="M452.63 228.04L454.43 231.19L450.83 231.19Z" fill="#3b5ec8"/>
<path d="M457.29 227.61L459.09 230.76L455.49 230.76Z" fill="#3b5ec8"/>
<path d="M461.94 227.12L463.74 230.27L460.14 230.27Z" fill="#3b5ec8"/>
<path d="M466.6 226.57L468.4 229.72L464.8 229.72Z" fill="#3b5ec8"/>
<path d="M471.26 225.95L473.06 229.1L469.46 229.1Z" fill="#3b5ec8"/>
<path d="M475.92 225.26L477.72 228.41L474.12 228.41Z" fill="#3b5ec8"/>
<path d="M480.58 224.48L482.38 227.63L478.78 227.63Z" fill="#3b5ec8"/>
<path d="M485.24 223.61L487.04 226.76L483.44 226.76Z" fill="#3b5ec8"/>
<path d="M489.9 222.65L491.7 225.8L488.1 225.8Z" fill="#3b5ec8"/>
<path d="M494.55 221.59L496.35 224.74L492.75 224.74Z" fill="#3b5ec8"/>
<path d="M499.21 220.43L501.01 223.58L497.41 223.58Z" fill="#3b5ec8"/>
<path d="M503.87 219.21L505.67 222.36L502.07 222.36Z" fill="#3b5ec8"/>
<path d="M508.53 217.95L510.33 221.1L506.73 221.1Z" fill="#3b5ec8"/>
<path d="M513.19 216.7L514.99 219.85L511.39 219.85Z" fill="#3b5ec8"/>
<path d="M517.85 215.53L519.65 218.68L516.05 218.68Z" fill="#3b5ec8"/>
<path d="M522.5 214.53L524.3 217.68L520.71 217.68Z" fill="#3b5ec8"/>
<path d="M527.16 213.78L528.96 216.93L525.36 216.93Z" fill="#3b5ec8"/>
<path d="M531.82 213.36L533.62 216.51L530.02 216.51Z" fill="#3b5ec8"/>
<path d="M536.48 213.32L538.28 216.47L534.68 216.47Z" fill="#3b5ec8"/>
<path d="M541.14 213.64L542.94 216.79L539.34 216.79Z" fill="#3b5ec8"/>
<path d="M545.8 214.28L547.6 217.43L544 217.43Z" fill="#3b5ec8"/>
<path d="M550.46 215.18L552.26 218.33L548.66 218.33Z" fill="#3b5ec8"/>
<path d="M555.11 216.25L556.91 219.4L553.31 219.4Z" fill="#3b5ec8"/>
<path d="M559.77 217.43L561.57 220.58L557.97 220.58Z" fill="#3b5ec8"/>
<path d="M564.43 218.65L566.23 221.8L562.63 221.8Z" fill="#3b5ec8"/>
<path d="M569.09 219.85L570.89 223L567.29 223Z" fill="#3b5ec8"/>
<path d="M573.75 220.99L575.55 224.14L571.95 224.14Z" fill="#3b5ec8"/>
<path d="M578.41 222.06L580.21 225.21L576.61 225.21Z" fill="#3b5ec8"/>
<path d="M583.07 223.05L584.87 226.2L581.27 226.2Z" fill="#3b5ec8"/>
<path d="M587.72 223.94L589.52 227.09L585.92 227.09Z" fill="#3b5ec8"/>
<path d="M592.38 224.74L594.18 227.89L590.58 227.89Z" fill="#3b5ec8"/>
<path d="M597.04 225.47L598.84 228.62L595.24 228.62Z" fill="#3b5ec8"/>
<path d="M601.7 226.11L603.5 229.26L599.9 229.26Z" fill="#3b5ec8"/>
<path d="M606.36 226.69L608.16 229.84L604.56 229.84Z" fill="#3b5ec8"/>
<path d="M611.02 227.21L612.82 230.36L609.22 230.36Z" fill="#3b5ec8"/>
<path d="M615.67 227.67L617.47 230.82L613.88 230.82Z" fill="#3b5ec8"/>
<path d="M620.33 228.08L622.13 231.23L618.53 231.23Z" fill="#3b5ec8"/>
<path d="M624.99 228.45L626.79 231.6L623.19 231.6Z" fill="#3b5ec8"/>
<path d="M629.65 228.78L631.45 231.93L627.85 231.93Z" fill="#3b5ec8"/>
<path d="M634.31 229.07L636.11 232.22L632.51 232.22Z" fill="#3b5ec8"/>
<path d="M638.97 229.34L640.77 232.49L637.17 232.49Z" fill="#3b5ec8"/>
<path d="M643.63 229.58L645.43 232.73L641.83 232.73Z" fill="#3b5ec8"/>
<path d="M648.28 229.8L650.08 232.95L646.48 232.95Z" fill="#3b5ec8"/>
<path d="M652.94 230L654.74 233.15L651.14 233.15Z" fill="#3b5ec8"/>
<path d="M657.6 230.18L659.4 233.33L655.8 233.33Z" fill="#3b5ec8"/>
<path d="M662.26 230.34L664.06 233.49L660.46 233.49Z" fill="#3b5ec8"/>
<polyline points="382.75,234.6 387.41,229.41 392.07,229.1 396.73,228.76 401.38,228.39 406.04,227.99 410.7,227.54 415.36,227.05 420.02,226.52 424.68,225.92 429.33,225.27 433.99,224.54 438.65,223.73 443.31,222.83 447.97,221.82 452.63,220.69 457.29,219.42 461.94,218 466.6,216.4 471.26,214.6 475.92,212.57 480.58,210.3 485.24,207.76 489.9,204.94 494.55,201.84 499.21,198.47 503.87,194.9 508.53,191.21 513.19,187.56 517.85,184.15 522.5,181.22 527.16,179.03 531.82,177.81 536.48,177.7 541.14,178.7 545.8,180.71 550.46,183.51 555.11,186.85 559.77,190.47 564.43,194.17 569.09,197.77 573.75,201.19 578.41,204.34 583.07,207.22 587.72,209.82 592.38,212.14 597.04,214.21 601.7,216.06 606.36,217.7 611.02,219.15 615.67,220.45 620.33,221.6 624.99,222.64 629.65,223.56 634.31,224.39 638.97,225.13 643.63,225.8 648.28,226.4 652.94,226.95 657.6,227.45 662.26,227.9" fill="none" stroke="#c53aa6" stroke-width="1.0" stroke-linejoin="round" />
<path d="M387.41 231.21L389.21 228.06L385.61 228.06Z" fill="#c53aa6"/>
<path d="M392.07 230.9L393.87 227.75L390.27 227.75Z" fill="#c53aa6"/>
<path d="M396.73 230.56L398.53 227.41L394.93 227.41Z" fill="#c53aa6"/>
<path d="M401.38 230.19L403.18 227.04L399.58 227.04Z" fill="#c53aa6"/>
<path d="M406.04 229.79L407.84 226.64L404.24 226.64Z" fill="#c53aa6"/>
<path d="M410.7 229.34L412.5 226.19L408.9 226.19Z" fill="#c53aa6"/>
<path d="M415.36 228.85L417.16 225.7L413.56 225.7Z" fill="#c53aa6"/>
<path d="M420.02 228.32L421.82 225.17L418.22 225.17Z" fill="#c53aa6"/>
<path d="M424.68 227.72L426.48 224.57L422.88 224.57Z" fill="#c53aa6"/>
<path d="M429.33 227.07L431.13 223.92L427.53 223.92Z" fill="#c53aa6"/>
<path d="M433.99 226.34L435.79 223.19L432.19 223.19Z" fill="#c53aa6"/>
<path d="M438.65 225.53L440.45 222.38L436.85 222.38Z" fill="#c53aa6"/>
<path d="M443.31 224.63L445.11 221.48L441.51 221.48Z" fill="#c53aa6"/>
<path d="M447.97 223.62L449.77 220.47L446.17 220.47Z" fill="#c53aa6"/>
<path d="M452.63 222.49L454.43 219.34L450.83 219.34Z" fill="#c53aa6"/>
<path d="M457.29 221.22L459.09 218.07L455.49 218.07Z" fill="#c53aa6"/>
<path d="M461.94 219.8L463.74 216.65L460.14 216.65Z" fill="#c53aa6"/>
<path d="M466.6 218.2L468.4 215.05L464.8 215.05Z" fill="#c53aa6"/>
<path d="M471.26 216.4L473.06 213.25L469.46 213.25Z" fill="#c53aa6"/>
<path d="M475.92 214.37L477.72 211.22L474.12 211.22Z" fill="#c53aa6"/>
<path d="M480.58 212.1L482.38 208.95L478.78 208.95Z" fill="#c53aa6"/>
<path d="M485.24 209.56L487.04 206.41L483.44 206.41Z" fill="#c53aa6"/>
<path d="M489.9 206.74L491.7 203.59L488.1 203.59Z" fill="#c53aa6"/>
<path d="M494.55 203.64L496.35 200.49L492.75 200.49Z" fill="#c53aa6"/>
<path d="M499.21 200.27L501.01 197.12L497.41 197.12Z" fill="#c53aa6"/>
<path d="M503.87 196.7L505.67 193.55L502.07 193.55Z" fill="#c53aa6"/>
<path d="M508.53 193.01L510.33 189.86L506.73 189.86Z" fill="#c53aa6"/>
<path d="M513.19 189.36L514.99 186.21L511.39 186.21Z" fill="#c53aa6"/>
<path d="M517.85 185.95L519.65 182.8L516.05 182.8Z" fill="#c53aa6"/>
<path d="M522.5 183.02L524.3 179.87L520.71 179.87Z" fill="#c53aa6"/>
<path d="M527.16 180.83L528.96 177.68L525.36 177.68Z" fill="#c53aa6"/>
<path d="M531.82 179.61L533.62 176.46L530.02 176.46Z" fill="#c53aa6"/>
<path d="M536.48 179.5L538.28 176.35L534.68 176.35Z" fill="#c53aa6"/>
<path d="M541.14 180.5L542.94 177.35L539.34 177.35Z" fill="#c53aa6"/>
<path d="M545.8 182.51L547.6 179.36L544 179.36Z" fill="#c53aa6"/>
<path d="M550.46 185.31L552.26 182.16L548.66 182.16Z" fill="#c53aa6"/>
<path d="M555.11 188.65L556.91 185.5L553.31 185.5Z" fill="#c53aa6"/>
<path d="M559.77 192.27L561.57 189.12L557.97 189.12Z" fill="#c53aa6"/>
<path d="M564.43 195.97L566.23 192.82L562.63 192.82Z" fill="#c53aa6"/>
<path d="M569.09 199.57L570.89 196.42L567.29 196.42Z" fill="#c53aa6"/>
<path d="M573.75 202.99L575.55 199.84L571.95 199.84Z" fill="#c53aa6"/>
<path d="M578.41 206.14L580.21 202.99L576.61 202.99Z" fill="#c53aa6"/>
<path d="M583.07 209.02L584.87 205.87L581.27 205.87Z" fill="#c53aa6"/>
<path d="M587.72 211.62L589.52 208.47L585.92 208.47Z" fill="#c53aa6"/>
<path d="M592.38 213.94L594.18 210.79L590.58 210.79Z" fill="#c53aa6"/>
<path d="M597.04 216.01L598.84 212.86L595.24 212.86Z" fill="#c53aa6"/>
<path d="M601.7 217.86L603.5 214.71L599.9 214.71Z" fill="#c53aa6"/>
<path d="M606.36 219.5L608.16 216.35L604.56 216.35Z" fill="#c53aa6"/>
<path d="M611.02 220.95L612.82 217.8L609.22 217.8Z" fill="#c53aa6"/>
<path d="M615.67 222.25L617.47 219.1L613.88 219.1Z" fill="#c53aa6"/>
<path d="M620.33 223.4L622.13 220.25L618.53 220.25Z" fill="#c53aa6"/>
<path d="M624.99 224.44L626.79 221.29L623.19 221.29Z" fill="#c53aa6"/>
<path d="M629.65 225.36L631.45 222.21L627.85 222.21Z" fill="#c53aa6"/>
<path d="M634.31 226.19L636.11 223.04L632.51 223.04Z" fill="#c53aa6"/>
<path d="M638.97 226.93L640.77 223.78L637.17 223.78Z" fill="#c53aa6"/>
<path d="M643.63 227.6L645.43 224.45L641.83 224.45Z" fill="#c53aa6"/>
<path d="M648.28 228.2L650.08 225.05L646.48 225.05Z" fill="#c53aa6"/>
<path d="M652.94 228.75L654.74 225.6L651.14 225.6Z" fill="#c53aa6"/>
<path d="M657.6 229.25L659.4 226.1L655.8 226.1Z" fill="#c53aa6"/>
<path d="M662.26 229.7L664.06 226.55L660.46 226.55Z" fill="#c53aa6"/>
<polyline points="382.75,234.6 387.41,223.52 392.07,222.84 396.73,222.1 401.38,221.29 406.04,220.4 410.7,219.43 415.36,218.37 420.02,217.19 424.68,215.89 429.33,214.45 433.99,212.86 438.65,211.09 443.31,209.11 447.97,206.91 452.63,204.45 457.29,201.69 461.94,198.61 466.6,195.17 471.26,191.32 475.92,187.04 480.58,182.29 485.24,177.08 489.9,171.4 494.55,165.33 499.21,158.97 503.87,152.51 508.53,146.22 513.19,140.45 517.85,135.6 522.5,132.08 527.16,130.22 531.82,130.2 536.48,131.9 541.14,135.12 545.8,139.6 550.46,144.98 555.11,150.91 559.77,157.06 564.43,163.19 569.09,169.1 573.75,174.68 578.41,179.86 583.07,184.62 587.72,188.94 592.38,192.86 597.04,196.39 601.7,199.56 606.36,202.41 611.02,204.97 615.67,207.28 620.33,209.35 624.99,211.21 629.65,212.9 634.31,214.42 638.97,215.8 643.63,217.05 648.28,218.19 652.94,219.22 657.6,220.17 662.26,221.04" fill="none" stroke="#0f8a48" stroke-width="1.0" stroke-linejoin="round" />
<circle cx="387.41" cy="223.52" r="1.75" fill="#0f8a48"/>
<circle cx="392.07" cy="222.84" r="1.75" fill="#0f8a48"/>
<circle cx="396.73" cy="222.1" r="1.75" fill="#0f8a48"/>
<circle cx="401.38" cy="221.29" r="1.75" fill="#0f8a48"/>
<circle cx="406.04" cy="220.4" r="1.75" fill="#0f8a48"/>
<circle cx="410.7" cy="219.43" r="1.75" fill="#0f8a48"/>
<circle cx="415.36" cy="218.37" r="1.75" fill="#0f8a48"/>
<circle cx="420.02" cy="217.19" r="1.75" fill="#0f8a48"/>
<circle cx="424.68" cy="215.89" r="1.75" fill="#0f8a48"/>
<circle cx="429.33" cy="214.45" r="1.75" fill="#0f8a48"/>
<circle cx="433.99" cy="212.86" r="1.75" fill="#0f8a48"/>
<circle cx="438.65" cy="211.09" r="1.75" fill="#0f8a48"/>
<circle cx="443.31" cy="209.11" r="1.75" fill="#0f8a48"/>
<circle cx="447.97" cy="206.91" r="1.75" fill="#0f8a48"/>
<circle cx="452.63" cy="204.45" r="1.75" fill="#0f8a48"/>
<circle cx="457.29" cy="201.69" r="1.75" fill="#0f8a48"/>
<circle cx="461.94" cy="198.61" r="1.75" fill="#0f8a48"/>
<circle cx="466.6" cy="195.17" r="1.75" fill="#0f8a48"/>
<circle cx="471.26" cy="191.32" r="1.75" fill="#0f8a48"/>
<circle cx="475.92" cy="187.04" r="1.75" fill="#0f8a48"/>
<circle cx="480.58" cy="182.29" r="1.75" fill="#0f8a48"/>
<circle cx="485.24" cy="177.08" r="1.75" fill="#0f8a48"/>
<circle cx="489.9" cy="171.4" r="1.75" fill="#0f8a48"/>
<circle cx="494.55" cy="165.33" r="1.75" fill="#0f8a48"/>
<circle cx="499.21" cy="158.97" r="1.75" fill="#0f8a48"/>
<circle cx="503.87" cy="152.51" r="1.75" fill="#0f8a48"/>
<circle cx="508.53" cy="146.22" r="1.75" fill="#0f8a48"/>
<circle cx="513.19" cy="140.45" r="1.75" fill="#0f8a48"/>
<circle cx="517.85" cy="135.6" r="1.75" fill="#0f8a48"/>
<circle cx="522.5" cy="132.08" r="1.75" fill="#0f8a48"/>
<circle cx="527.16" cy="130.22" r="1.75" fill="#0f8a48"/>
<circle cx="531.82" cy="130.2" r="1.75" fill="#0f8a48"/>
<circle cx="536.48" cy="131.9" r="1.75" fill="#0f8a48"/>
<circle cx="541.14" cy="135.12" r="1.75" fill="#0f8a48"/>
<circle cx="545.8" cy="139.6" r="1.75" fill="#0f8a48"/>
<circle cx="550.46" cy="144.98" r="1.75" fill="#0f8a48"/>
<circle cx="555.11" cy="150.91" r="1.75" fill="#0f8a48"/>
<circle cx="559.77" cy="157.06" r="1.75" fill="#0f8a48"/>
<circle cx="564.43" cy="163.19" r="1.75" fill="#0f8a48"/>
<circle cx="569.09" cy="169.1" r="1.75" fill="#0f8a48"/>
<circle cx="573.75" cy="174.68" r="1.75" fill="#0f8a48"/>
<circle cx="578.41" cy="179.86" r="1.75" fill="#0f8a48"/>
<circle cx="583.07" cy="184.62" r="1.75" fill="#0f8a48"/>
<circle cx="587.72" cy="188.94" r="1.75" fill="#0f8a48"/>
<circle cx="592.38" cy="192.86" r="1.75" fill="#0f8a48"/>
<circle cx="597.04" cy="196.39" r="1.75" fill="#0f8a48"/>
<circle cx="601.7" cy="199.56" r="1.75" fill="#0f8a48"/>
<circle cx="606.36" cy="202.41" r="1.75" fill="#0f8a48"/>
<circle cx="611.02" cy="204.97" r="1.75" fill="#0f8a48"/>
<circle cx="615.67" cy="207.28" r="1.75" fill="#0f8a48"/>
<circle cx="620.33" cy="209.35" r="1.75" fill="#0f8a48"/>
<circle cx="624.99" cy="211.21" r="1.75" fill="#0f8a48"/>
<circle cx="629.65" cy="212.9" r="1.75" fill="#0f8a48"/>
<circle cx="634.31" cy="214.42" r="1.75" fill="#0f8a48"/>
<circle cx="638.97" cy="215.8" r="1.75" fill="#0f8a48"/>
<circle cx="643.63" cy="217.05" r="1.75" fill="#0f8a48"/>
<circle cx="648.28" cy="218.19" r="1.75" fill="#0f8a48"/>
<circle cx="652.94" cy="219.22" r="1.75" fill="#0f8a48"/>
<circle cx="657.6" cy="220.17" r="1.75" fill="#0f8a48"/>
<circle cx="662.26" cy="221.04" r="1.75" fill="#0f8a48"/>
<polyline points="382.75,234.6 387.41,214.75 392.07,213.57 396.73,212.28 401.38,210.88 406.04,209.35 410.7,207.67 415.36,205.83 420.02,203.8 424.68,201.57 429.33,199.11 433.99,196.38 438.65,193.35 443.31,189.98 447.97,186.22 452.63,182.03 457.29,177.35 461.94,172.11 466.6,166.23 471.26,159.65 475.92,152.3 480.58,144.09 485.24,134.98 489.9,124.93 494.55,113.98 499.21,102.2 503.87,89.81 508.53,77.15 513.19,64.73 517.85,53.23 522.5,43.44 527.16,36.19 531.82,32.17 536.48,31.73 541.14,34.31 545.8,39.56 550.46,47.06 555.11,56.29 559.77,66.66 564.43,77.66 569.09,88.82 573.75,99.8 578.41,110.34 583.07,120.29 587.72,129.55 592.38,138.08 597.04,145.89 601.7,153.01 606.36,159.47 611.02,165.32 615.67,170.62 620.33,175.41 624.99,179.75 629.65,183.68 634.31,187.24 638.97,190.48 643.63,193.42 648.28,196.1 652.94,198.55 657.6,200.78 662.26,202.82" fill="none" stroke="#1e2488" stroke-width="1.0" stroke-linejoin="round" />
<path d="M385.61 214.75L388.76 212.95L388.76 216.55Z" fill="#1e2488"/>
<path d="M390.27 213.57L393.42 211.77L393.42 215.37Z" fill="#1e2488"/>
<path d="M394.93 212.28L398.08 210.48L398.08 214.08Z" fill="#1e2488"/>
<path d="M399.58 210.88L402.73 209.08L402.73 212.68Z" fill="#1e2488"/>
<path d="M404.24 209.35L407.39 207.55L407.39 211.15Z" fill="#1e2488"/>
<path d="M408.9 207.67L412.05 205.87L412.05 209.47Z" fill="#1e2488"/>
<path d="M413.56 205.83L416.71 204.03L416.71 207.63Z" fill="#1e2488"/>
<path d="M418.22 203.8L421.37 202L421.37 205.6Z" fill="#1e2488"/>
<path d="M422.88 201.57L426.03 199.77L426.03 203.37Z" fill="#1e2488"/>
<path d="M427.53 199.11L430.69 197.31L430.69 200.91Z" fill="#1e2488"/>
<path d="M432.19 196.38L435.34 194.58L435.34 198.18Z" fill="#1e2488"/>
<path d="M436.85 193.35L440 191.55L440 195.15Z" fill="#1e2488"/>
<path d="M441.51 189.98L444.66 188.18L444.66 191.78Z" fill="#1e2488"/>
<path d="M446.17 186.22L449.32 184.42L449.32 188.02Z" fill="#1e2488"/>
<path d="M450.83 182.03L453.98 180.23L453.98 183.83Z" fill="#1e2488"/>
<path d="M455.49 177.35L458.64 175.55L458.64 179.15Z" fill="#1e2488"/>
<path d="M460.14 172.11L463.29 170.31L463.29 173.91Z" fill="#1e2488"/>
<path d="M464.8 166.23L467.95 164.43L467.95 168.03Z" fill="#1e2488"/>
<path d="M469.46 159.65L472.61 157.85L472.61 161.45Z" fill="#1e2488"/>
<path d="M474.12 152.3L477.27 150.5L477.27 154.1Z" fill="#1e2488"/>
<path d="M478.78 144.09L481.93 142.29L481.93 145.89Z" fill="#1e2488"/>
<path d="M483.44 134.98L486.59 133.18L486.59 136.78Z" fill="#1e2488"/>
<path d="M488.1 124.93L491.25 123.13L491.25 126.73Z" fill="#1e2488"/>
<path d="M492.75 113.98L495.9 112.18L495.9 115.78Z" fill="#1e2488"/>
<path d="M497.41 102.2L500.56 100.4L500.56 104Z" fill="#1e2488"/>
<path d="M502.07 89.81L505.22 88.01L505.22 91.61Z" fill="#1e2488"/>
<path d="M506.73 77.15L509.88 75.35L509.88 78.95Z" fill="#1e2488"/>
<path d="M511.39 64.73L514.54 62.93L514.54 66.53Z" fill="#1e2488"/>
<path d="M516.05 53.23L519.2 51.43L519.2 55.03Z" fill="#1e2488"/>
<path d="M520.71 43.44L523.86 41.64L523.86 45.24Z" fill="#1e2488"/>
<path d="M525.36 36.19L528.51 34.39L528.51 37.99Z" fill="#1e2488"/>
<path d="M530.02 32.17L533.17 30.37L533.17 33.97Z" fill="#1e2488"/>
<path d="M534.68 31.73L537.83 29.93L537.83 33.53Z" fill="#1e2488"/>
<path d="M539.34 34.31L542.49 32.51L542.49 36.11Z" fill="#1e2488"/>
<path d="M544 39.56L547.15 37.76L547.15 41.36Z" fill="#1e2488"/>
<path d="M548.66 47.06L551.81 45.26L551.81 48.86Z" fill="#1e2488"/>
<path d="M553.31 56.29L556.46 54.49L556.46 58.09Z" fill="#1e2488"/>
<path d="M557.97 66.66L561.12 64.86L561.12 68.46Z" fill="#1e2488"/>
<path d="M562.63 77.66L565.78 75.86L565.78 79.46Z" fill="#1e2488"/>
<path d="M567.29 88.82L570.44 87.02L570.44 90.62Z" fill="#1e2488"/>
<path d="M571.95 99.8L575.1 98L575.1 101.6Z" fill="#1e2488"/>
<path d="M576.61 110.34L579.76 108.54L579.76 112.14Z" fill="#1e2488"/>
<path d="M581.27 120.29L584.42 118.49L584.42 122.09Z" fill="#1e2488"/>
<path d="M585.92 129.55L589.07 127.75L589.07 131.35Z" fill="#1e2488"/>
<path d="M590.58 138.08L593.73 136.28L593.73 139.88Z" fill="#1e2488"/>
<path d="M595.24 145.89L598.39 144.09L598.39 147.69Z" fill="#1e2488"/>
<path d="M599.9 153.01L603.05 151.21L603.05 154.81Z" fill="#1e2488"/>
<path d="M604.56 159.47L607.71 157.67L607.71 161.27Z" fill="#1e2488"/>
<path d="M609.22 165.32L612.37 163.52L612.37 167.12Z" fill="#1e2488"/>
<path d="M613.88 170.62L617.02 168.82L617.02 172.42Z" fill="#1e2488"/>
<path d="M618.53 175.41L621.68 173.61L621.68 177.21Z" fill="#1e2488"/>
<path d="M623.19 179.75L626.34 177.95L626.34 181.55Z" fill="#1e2488"/>
<path d="M627.85 183.68L631 181.88L631 185.48Z" fill="#1e2488"/>
<path d="M632.51 187.24L635.66 185.44L635.66 189.04Z" fill="#1e2488"/>
<path d="M637.17 190.48L640.32 188.68L640.32 192.28Z" fill="#1e2488"/>
<path d="M641.83 193.42L644.98 191.62L644.98 195.22Z" fill="#1e2488"/>
<path d="M646.48 196.1L649.63 194.3L649.63 197.9Z" fill="#1e2488"/>
<path d="M651.14 198.55L654.29 196.75L654.29 200.35Z" fill="#1e2488"/>
<path d="M655.8 200.78L658.95 198.98L658.95 202.58Z" fill="#1e2488"/>
<path d="M660.46 202.82L663.61 201.02L663.61 204.62Z" fill="#1e2488"/>
<text transform="translate(375.3,239.25) scale(0.94,1)" font-size="14.04" text-anchor="end" fill="#111" stroke="#111" stroke-width="0.15">0</text>
<text transform="translate(375.3,201) scale(0.94,1)" font-size="14.04" text-anchor="end" fill="#111" stroke="#111" stroke-width="0.15">1</text>
<text transform="translate(375.3,162.75) scale(0.94,1)" font-size="14.04" text-anchor="end" fill="#111" stroke="#111" stroke-width="0.15">2</text>
<text transform="translate(375.3,124.5) scale(0.94,1)" font-size="14.04" text-anchor="end" fill="#111" stroke="#111" stroke-width="0.15">3</text>
<text transform="translate(375.3,86.25) scale(0.94,1)" font-size="14.04" text-anchor="end" fill="#111" stroke="#111" stroke-width="0.15">4</text>
<text transform="translate(375.3,48) scale(0.94,1)" font-size="14.04" text-anchor="end" fill="#111" stroke="#111" stroke-width="0.15">5</text>
<text transform="translate(375.3,9.75) scale(0.94,1)" font-size="14.04" text-anchor="end" fill="#111" stroke="#111" stroke-width="0.15">6</text>
<text transform="translate(382.75,250.85) scale(0.94,1)" font-size="14.04" text-anchor="middle" fill="#111" stroke="#111" stroke-width="0.15">365</text>
<text transform="translate(429.33,250.85) scale(0.94,1)" font-size="14.04" text-anchor="middle" fill="#111" stroke="#111" stroke-width="0.15">370</text>
<text transform="translate(475.92,250.85) scale(0.94,1)" font-size="14.04" text-anchor="middle" fill="#111" stroke="#111" stroke-width="0.15">375</text>
<text transform="translate(522.5,250.85) scale(0.94,1)" font-size="14.04" text-anchor="middle" fill="#111" stroke="#111" stroke-width="0.15">380</text>
<text transform="translate(569.09,250.85) scale(0.94,1)" font-size="14.04" text-anchor="middle" fill="#111" stroke="#111" stroke-width="0.15">385</text>
<text transform="translate(615.67,250.85) scale(0.94,1)" font-size="14.04" text-anchor="middle" fill="#111" stroke="#111" stroke-width="0.15">390</text>
<text transform="translate(662.26,250.85) scale(0.94,1)" font-size="14.04" text-anchor="middle" fill="#111" stroke="#111" stroke-width="0.15">395</text>
<text transform="translate(518.7,266.65) scale(0.94,1)" font-size="14.04" text-anchor="middle" fill="#111" stroke="#111" stroke-width="0.15">Frequency (Hz)</text>
<text transform="translate(361.2,129.3) rotate(-90) scale(0.94,1)" font-size="14.04" text-anchor="middle" fill="#111" stroke="#111" stroke-width="0.15">Power (&#956;W)</text>
<rect x="352.5" y="257.5" width="18" height="21" fill="none" stroke="#333" stroke-width="1.1"/>
<text transform="translate(361.2,273.65) scale(0.94,1)" font-size="18.36" text-anchor="middle" fill="#111" stroke="#111" stroke-width="0.15">b)</text>
<rect x="386.5" y="8.5" width="78" height="20" fill="none" stroke="#777" stroke-width="1"/>
<text transform="translate(388.5,23.35) scale(0.94,1)" font-size="14.04" text-anchor="start" fill="#111" stroke="#111" stroke-width="0.15">Without mass</text>
<line x1="393" y1="51.5" x2="412.6" y2="51.5" stroke="#333" stroke-width="0.8"/>
<rect x="401.2" y="49.7" width="3.6" height="3.6" fill="#111"/>
<text transform="translate(418.9,53.75) scale(0.94,1)" font-size="14.04" text-anchor="start" fill="#111" stroke="#111" stroke-width="0.15">Measured</text>
<line x1="393" y1="66.5" x2="412.6" y2="66.5" stroke="#333" stroke-width="0.8"/>
<text transform="translate(418.9,70.85) scale(0.94,1)" font-size="14.04" text-anchor="start" fill="#111" stroke="#111" stroke-width="0.15">FEM</text>
<text transform="translate(657.6,21.75) scale(0.94,1)" font-size="14.04" text-anchor="end" fill="#111" stroke="#111" stroke-width="0.15">Acceleration (g)</text>
<rect x="593.5" y="26.5" width="62.7" height="70.3" fill="none" stroke="#888" stroke-width="1.2"/>
<line x1="601.1" y1="39" x2="632.4" y2="39" stroke="#3b5ec8" stroke-width="0.9" opacity="0.85"/>
<path d="M616.75 37.32L618.43 40.26L615.07 40.26Z" fill="#3b5ec8"/>
<text transform="translate(635.6,43.95) scale(0.94,1)" font-size="14.04" text-anchor="start" fill="#111" stroke="#111" stroke-width="0.15">0.3</text>
<line x1="601.1" y1="55.8" x2="632.4" y2="55.8" stroke="#c53aa6" stroke-width="0.9" opacity="0.85"/>
<path d="M616.75 57.48L618.43 54.54L615.07 54.54Z" fill="#c53aa6"/>
<text transform="translate(635.6,60.75) scale(0.94,1)" font-size="14.04" text-anchor="start" fill="#111" stroke="#111" stroke-width="0.15">0.5</text>
<line x1="601.1" y1="72.6" x2="632.4" y2="72.6" stroke="#0f8a48" stroke-width="0.9" opacity="0.85"/>
<circle cx="616.75" cy="72.6" r="1.4" fill="#0f8a48"/>
<text transform="translate(635.6,77.55) scale(0.94,1)" font-size="14.04" text-anchor="start" fill="#111" stroke="#111" stroke-width="0.15">0.7</text>
<line x1="601.1" y1="89.4" x2="632.4" y2="89.4" stroke="#1e2488" stroke-width="0.9" opacity="0.85"/>
<path d="M615.07 89.4L618.01 87.72L618.01 91.08Z" fill="#1e2488"/>
<text transform="translate(635.6,94.35) scale(0.94,1)" font-size="14.04" text-anchor="start" fill="#111" stroke="#111" stroke-width="0.15">1</text>
<text transform="translate(620.6,135.75) scale(0.94,1)" font-size="14.04" text-anchor="start" fill="#111" stroke="#111" stroke-width="0.15">Load:</text>
<text transform="translate(620.6,153.95) scale(0.94,1)" font-size="14.04" text-anchor="start" fill="#111" stroke="#111" stroke-width="0.15">95 k&#937;</text>
<text transform="translate(395.75,124) scale(0.94,1)" font-size="14.04" text-anchor="start" fill="#111" stroke="#111" stroke-width="0.15">[&#956;W/g<tspan font-size="8" dy="-5.5">2</tspan><tspan dy="5.5">.cm</tspan><tspan font-size="8" dy="-5.5">3</tspan><tspan dy="5.5">]</tspan></text>
<text transform="translate(395.75,140.25) scale(0.94,1)" font-size="14.04" text-anchor="start" fill="#111" stroke="#111" stroke-width="0.15">NPD: 495</text>
<text transform="translate(395.75,157.15) scale(0.94,1)" font-size="14.04" text-anchor="start" fill="#111" stroke="#111" stroke-width="0.15">FOM: 1.8</text>
</svg></body></html>
